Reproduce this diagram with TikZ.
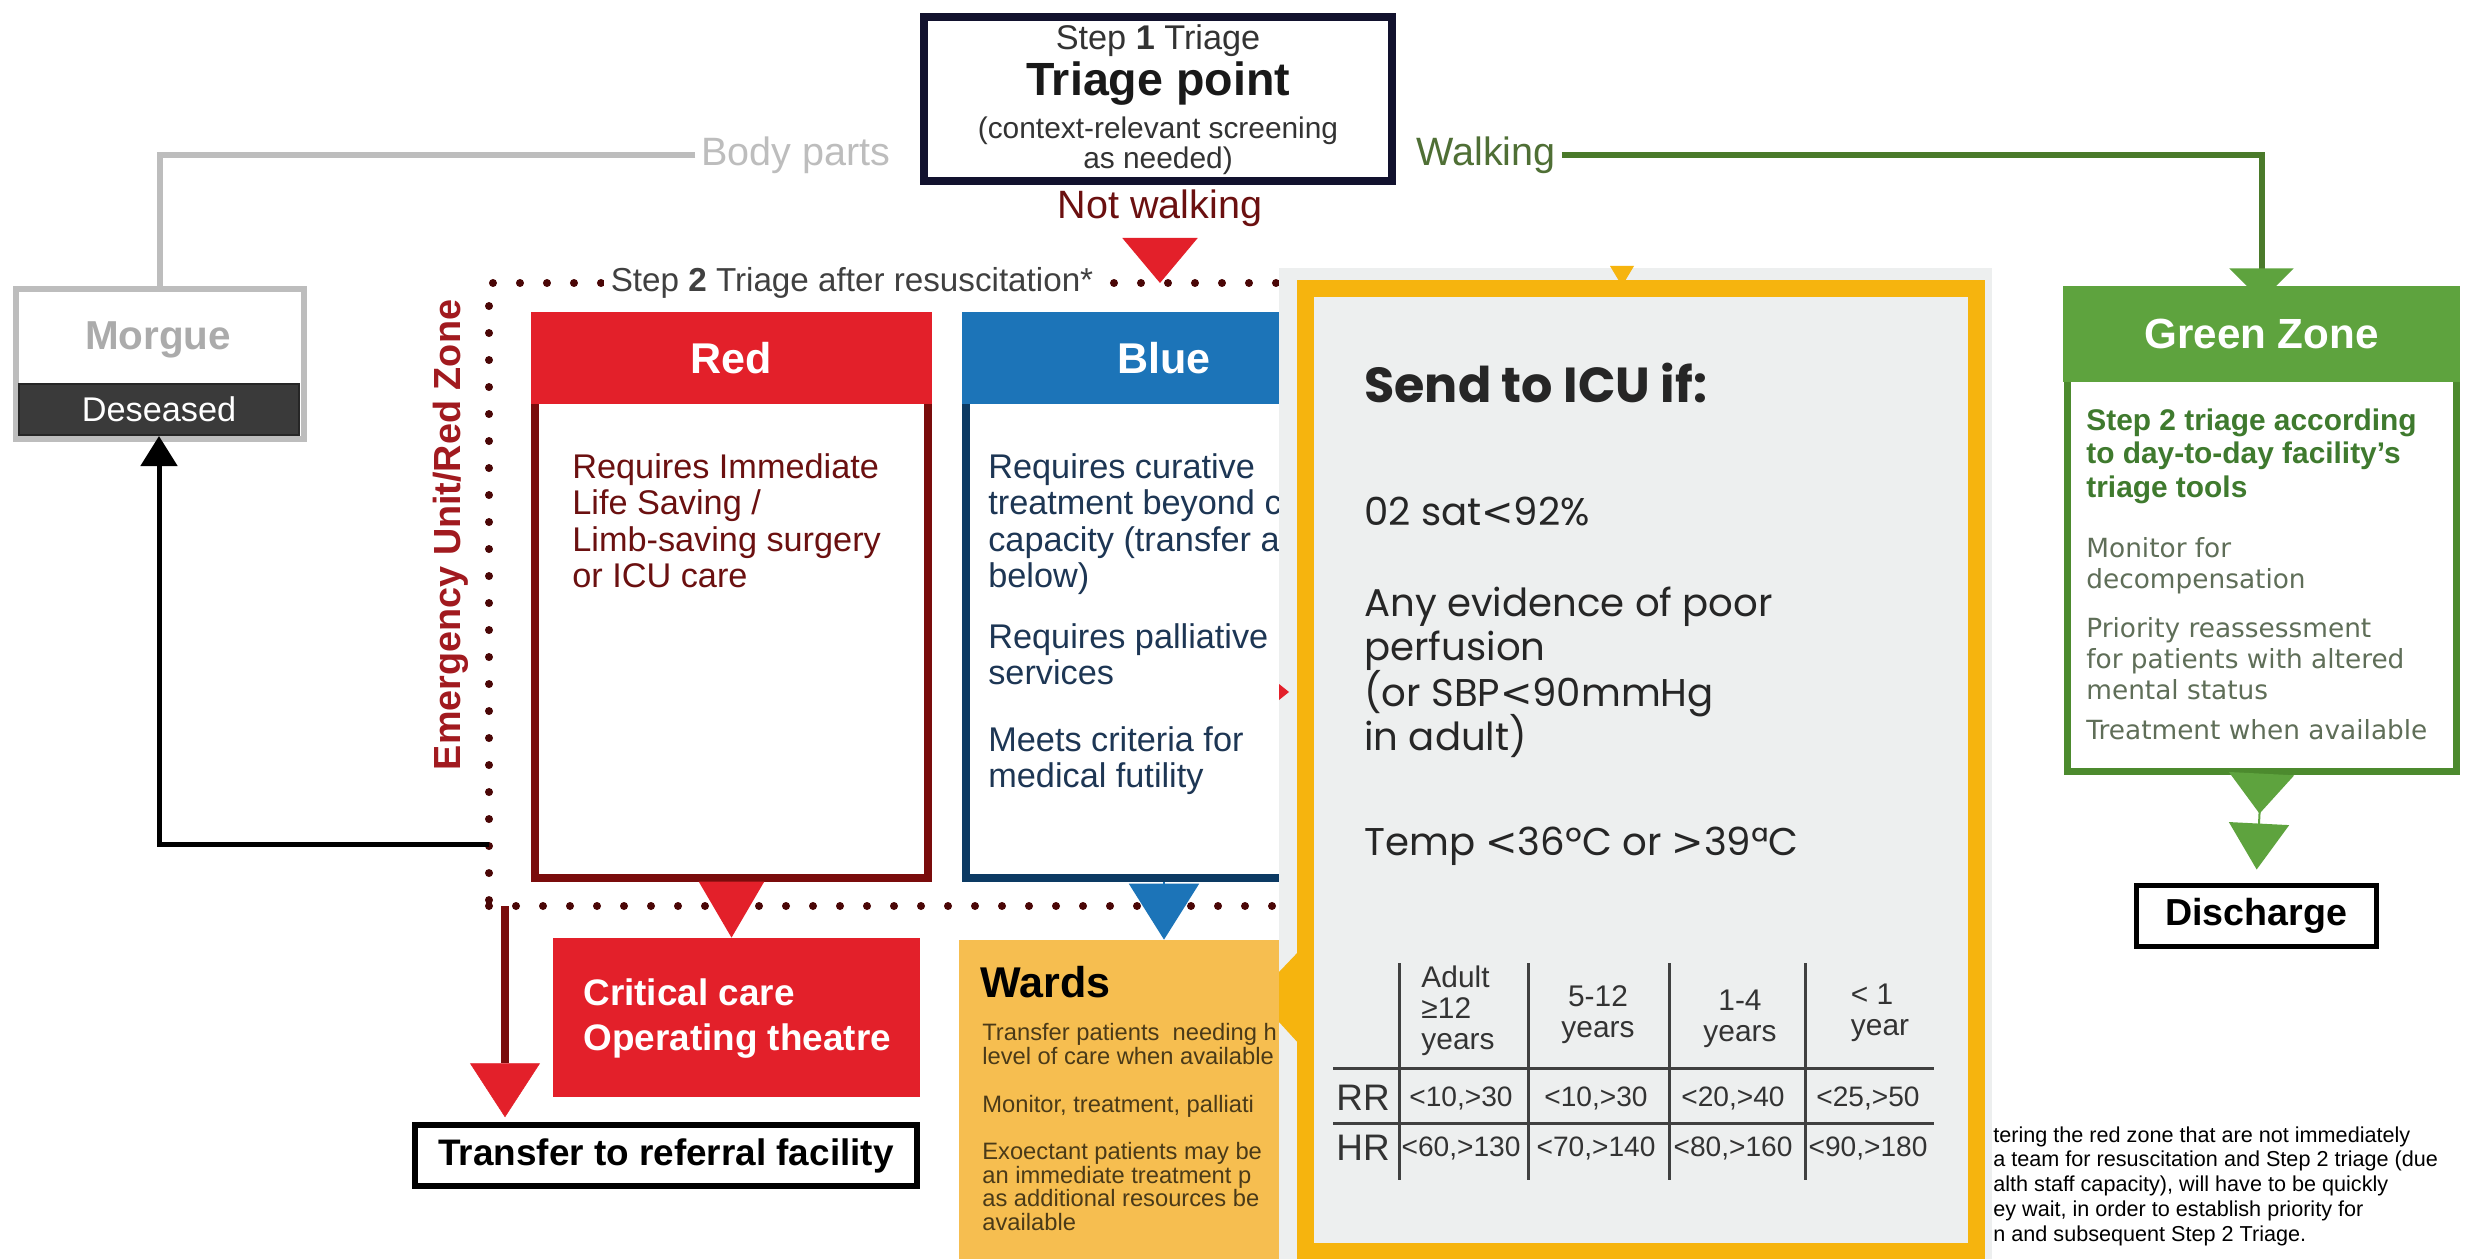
\documentclass[tikz,border=0pt]{standalone}
\usepackage{fontspec}
\setmainfont{Liberation Sans}
\newfontfamily\icufont{Poppins}
\newfontfamily\wideface{DejaVu Sans}
\usetikzlibrary{arrows.meta,positioning,calc,fit}

\definecolor{tiared}{HTML}{E3202A}
\definecolor{redrim}{HTML}{7A0C0C}
\definecolor{redtext}{HTML}{6B1010}
\definecolor{zonered}{HTML}{A11A1F}
\definecolor{zonedot}{HTML}{4A0606}
\definecolor{bluehead}{HTML}{1C74B8}
\definecolor{bluerim}{HTML}{0C3A63}
\definecolor{bluetext}{HTML}{1D3654}
\definecolor{wardfill}{HTML}{F6BE50}
\definecolor{wardtext}{HTML}{4A3A18}
\definecolor{icupanel}{HTML}{EDEFEF}
\definecolor{icurim}{HTML}{F6B40E}
\definecolor{greenhead}{HTML}{5EA33E}
\definecolor{greenrim}{HTML}{4C8A2E}
\definecolor{greenline}{HTML}{4A7A2A}
\definecolor{greenbold}{HTML}{3F7A2E}
\definecolor{greentext}{HTML}{5F6E58}
\definecolor{walkgreen}{HTML}{4F6F35}
\definecolor{morguegray}{HTML}{BDBDBD}
\definecolor{morguetext}{HTML}{ABABAB}
\definecolor{deadbar}{HTML}{3A3A3A}
\definecolor{triagerim}{HTML}{12122E}

\newcommand{\fsz}[2]{\fontsize{#1}{#2}\selectfont}
\newcommand{\lsign}{{\wideface<}}
\newcommand{\gsign}{{\wideface>}}

\begin{document}
\begin{tikzpicture}[x=0.2mm, y=-0.2mm,
    panel/.style={inner sep=0pt},
    rimbox/.style={panel, fill=white, line width=1.6mm},
    headtext/.style={inner sep=0pt, text=white, font=\bfseries\fsz{24.5}{26}},
    bodytext/.style={anchor=north west, inner sep=0pt, align=left, font=\fsz{19.5}{20.8}},
    wardtxt/.style={anchor=north west, inner sep=0pt, align=left, text=wardtext, font=\fsz{13.5}{13.4}},
    iculine/.style={anchor=base west, inner sep=0pt, text=black!85, font=\icufont\fsz{22}{26}},
    cell/.style={inner sep=0pt, text=black!80, font=\fsz{16}{18}},
    tabline/.style={draw=black!75, line width=0.6mm},
    grayline/.style={draw=morguegray, line width=1.2mm},
    blackarrow/.style={draw=black, line width=1mm, -{Triangle[length=6mm, width=7.2mm]}},
    greenarrow/.style={draw=greenline, line width=1.2mm},
    zonedots/.style={panel, outer sep=0pt, draw=zonedot, line width=1.6mm, dash pattern=on 0pt off 5.4mm, line cap=round}
]
\useasboundingbox (0,0) rectangle (2465,1259);
\fill[white] (0,0) rectangle (2465,1259);

% step 1
\node[rimbox, draw=triagerim, fit={(924,17)(1392,181)}] (triage) {};
\node[font=\fsz{19.5}{22}, text=black!80] (stepone) at (1158,41) {Step \textbf{1} Triage};
\node[font=\bfseries\fsz{26.5}{28}, text=black!90] (triagept) at (1158,84) {Triage point};
\node[align=center, font=\fsz{17}{17.1}, text=black!80] (screen) at (1158,146) {(context-relevant screening\\as needed)};
\node[font=\fsz{22.5}{24}, text=redtext] (notwalk) at (1160,208) {Not walking};
\node[font=\fsz{22.5}{24}, text=morguegray] (bodyparts) at (796,155) {Body parts};
\node[font=\fsz{22.5}{24}, text=walkgreen] (walking) at (1486,155) {Walking};

% morgue
\node[rimbox, draw=morguegray, line width=1.2mm, fit={(16,289)(304,439)}] (morgue) {};
\node[font=\bfseries\fsz{23}{24}, text=morguetext] (morguettl) at (158,340) {Morgue};
\node[panel, fill=deadbar, draw=black!85, line width=0.4mm, fit={(19,384)(299,435)}] (deceased) {};
\node[inner sep=0pt, text=white, font=\fsz{19.5}{20}] (deceasedtxt) at (deceased.center) {Deseased};

% red zone
\node[zonedots, fit={(489,283)(1300,906)}] (zone) {};
\node[fill=white, inner sep=1.4mm, font=\fsz{18.9}{20}, text=black!75] (steptwo) at (852,283) {Step \textbf{2} Triage after resuscitation*};
\node[rotate=90, font=\bfseries\fsz{21.5}{24}, text=zonered] (ezone) at (451,535) {Emergency Unit/Red Zone};

\node[rimbox, draw=redrim, fit={(535,316)(928,878)}] (red) {};
\node[panel, fill=tiared, fit={(531,312)(932,404)}] (redhead) {};
\node[headtext] (redttl) at (redhead.center) {Red};
\node[bodytext, text=redtext] (redtxt) at (572,453) {Requires Immediate\\Life Saving /\\Limb-saving surgery\\or ICU care};

\node[rimbox, draw=bluerim, fit={(966,316)(1362,878)}] (blue) {};
\node[panel, fill=bluehead, fit={(962,312)(1366,404)}] (bluehead) {};
\node[headtext] (bluettl) at (bluehead.center) {Blue};
\node[bodytext, text=bluetext] (bluetxt) at (988,453) {Requires curative\\treatment beyond cu\\capacity (transfer as\\below)\\[13.5pt]Requires palliative\\services\\[17pt]Meets criteria for\\medical futility};

\node[panel, fill=tiared, fit={(553,938)(920,1097)}] (crit) {};
\node[anchor=west, inner sep=0pt, align=left, text=white, font=\bfseries\fsz{21}{25.6}] (crittxt) at (583,1019) {Critical care\\Operating theatre};
\node[panel, fill=wardfill, fit={(959,940)(1370,1265)}] (wards) {};
\node[anchor=base west, inner sep=0pt, font=\bfseries\fsz{24.5}{26}] (wardshd) at (980,997) {Wards};
\node[wardtxt] (ward1) at (982,1023) {Transfer patients\ \ needing h\\level of care when available};
\node[wardtxt] (ward2) at (982,1095) {Monitor, treatment, palliati};
\node[wardtxt] (ward3) at (982,1142) {Exoectant patients may be\\an immediate treatment p\\as additional resources be\\available};

\node[panel, draw=black, line width=1.1mm, fit={(415,1125)(917,1186)}] (transfer) {};
\node[inner sep=0pt, font=\bfseries\fsz{21}{24}] (transfertxt) at (transfer.center) {Transfer to referral facility};

\draw[draw=tiared, line width=0.4mm, shorten <=1.2mm, -{Triangle[length=9mm, width=15mm]}] (notwalk.south) -- (notwalk.south |- zone.north);
\draw[draw=tiared, line width=0.4mm, -{Triangle[length=11.2mm, width=13mm]}] (red.south) -- (red.south |- crit.north);
\draw[draw=bluehead, line width=0.4mm, -{Triangle[length=11.2mm, width=14mm]}] (blue.south) -- (blue.south |- wards.north);

\coordinate (zonefoot) at ($(zone.south west)+(16,0)$);
\draw[draw=redrim, line width=1.6mm, shorten >=1mm, -{Triangle[length=10.8mm, width=14mm, line width=0.1mm, fill=tiared, color=tiared]}] (zonefoot) -- (zonefoot |- transfer.north);
\coordinate (zoneside) at ($(zone.south west)+(0,-62)$);
\draw[blackarrow] (zoneside) -| (deceased.south);
\draw[grayline] (bodyparts.west) -| (morgue.north);

% icu criteria
\node[panel, fill=icupanel, fit={(1279,268)(1992,1265)}] (icu) {};
\draw[icurim, line width=3.4mm] (1305,289) rectangle (1976,1251);
\fill[icurim] (1610,266) -- (1634,266) -- (1622,286) -- cycle;
\fill[icurim] (1300,950) -- (1279,972) -- (1279,1022) -- (1300,1045) -- cycle;
\fill[tiared] (1279,684) -- (1289,692) -- (1279,700) -- cycle;
\node[iculine, font=\icufont\bfseries\fsz{28}{30}] (icuhead) at (1364,402) {Send to ICU if:};
\node[iculine] (osat) at (1364,525) {02 sat\lsign92\%};
\node[iculine] (perf1) at (1364,616) {Any evidence of poor};
\node[iculine] (perf2) at (1364,660) {perfusion};
\node[iculine] (perf3) at (1364,706) {(or SBP\lsign90mmHg};
\node[iculine] (perf4) at (1364,750) {in adult)};
\node[iculine] (temp) at (1364,855) {Temp \lsign36ºC or \gsign39ªC};

\draw[tabline] (1333,1068) -- (1934,1068);
\draw[tabline] (1333,1123) -- (1934,1123);
\draw[tabline] (1399,963) -- (1399,1180);
\draw[tabline] (1528,963) -- (1528,1180);
\draw[tabline] (1669,963) -- (1669,1180);
\draw[tabline] (1805,963) -- (1805,1180);
\node[cell, align=left, font=\fsz{17}{17.6}] (agea) at (1458,1011) {Adult\\≥12\\years};
\node[cell, align=center, font=\fsz{17}{17.6}] (ageb) at (1598,1015) {5-12\\years};
\node[cell, align=center, font=\fsz{17}{17.6}] (agec) at (1740,1019) {1-4\\years};
\node[cell, align=left, font=\fsz{17}{17.6}] (aged) at (1880,1013) {< 1\\year};
\node[cell, font=\fsz{21}{22}] (rr) at (1363,1098) {RR};
\node[cell, font=\fsz{21}{22}] (hr) at (1363,1148) {HR};
\node[cell] (rra) at (1461,1098) {<10,>30};
\node[cell] (rrb) at (1596,1098) {<10,>30};
\node[cell] (rrc) at (1733,1098) {<20,>40};
\node[cell] (rrd) at (1868,1098) {<25,>50};
\node[cell] (hra) at (1461,1148) {<60,>130};
\node[cell] (hrb) at (1596,1148) {<70,>140};
\node[cell] (hrc) at (1733,1148) {<80,>160};
\node[cell] (hrd) at (1868,1148) {<90,>180};

\node[anchor=north west, inner sep=0pt, align=left, font=\fsz{12.3}{14.2}] (note) at (1993,1126) {tering the red zone that are not immediately\\a team for resuscitation and Step 2 triage (due\\alth staff capacity), will have to be quickly\\ey wait, in order to establish priority for\\n and subsequent Step 2 Triage.};

% green zone
\node[rimbox, draw=greenrim, line width=1.4mm, fit={(2067,290)(2456,771)}] (green) {};
\node[panel, fill=greenhead, fit={(2063,286)(2460,382)}] (greenhd) {};
\node[headtext, font=\bfseries\fsz{24}{26}] (greenttl) at (greenhd.center) {Green Zone};
\node[anchor=north west, inner sep=0pt, align=left, text=greenbold, font=\bfseries\fsz{17}{19.3}] (greenstep) at (2086,408) {Step 2 triage according\\to day-to-day facility’s\\triage tools};
\node[anchor=north west, inner sep=0pt, align=left, text=greentext, font=\wideface\fsz{15}{17.6}] (green1) at (2086,537) {Monitor for\\decompensation};
\node[anchor=north west, inner sep=0pt, align=left, text=greentext, font=\wideface\fsz{15}{17.6}] (green2) at (2086,617) {Priority reassessment\\for patients with altered\\mental status};
\node[anchor=north west, inner sep=0pt, align=left, text=greentext, font=\wideface\fsz{15}{17.6}] (green3) at (2086,719) {Treatment when available};
\node[panel, draw=black, line width=1mm, fit={(2136,885)(2376,946)}] (discharge) {};
\node[inner sep=0pt, font=\bfseries\fsz{21.4}{23}] (dischargetxt) at (discharge.center) {Discharge};

\draw[greenarrow, shorten >=-2.8mm, -{Triangle[length=6.4mm, width=12.6mm, fill=greenhead, color=greenhead]}] (walking.east) -| (green.north);
\draw[draw=greenhead, line width=0.4mm, shorten >=2.6mm, -{Triangle[length=8mm, width=13mm, sep=2mm] Triangle[length=9.2mm, width=12mm]}] (green.south) -- (discharge.north);
\end{tikzpicture}
\end{document}
